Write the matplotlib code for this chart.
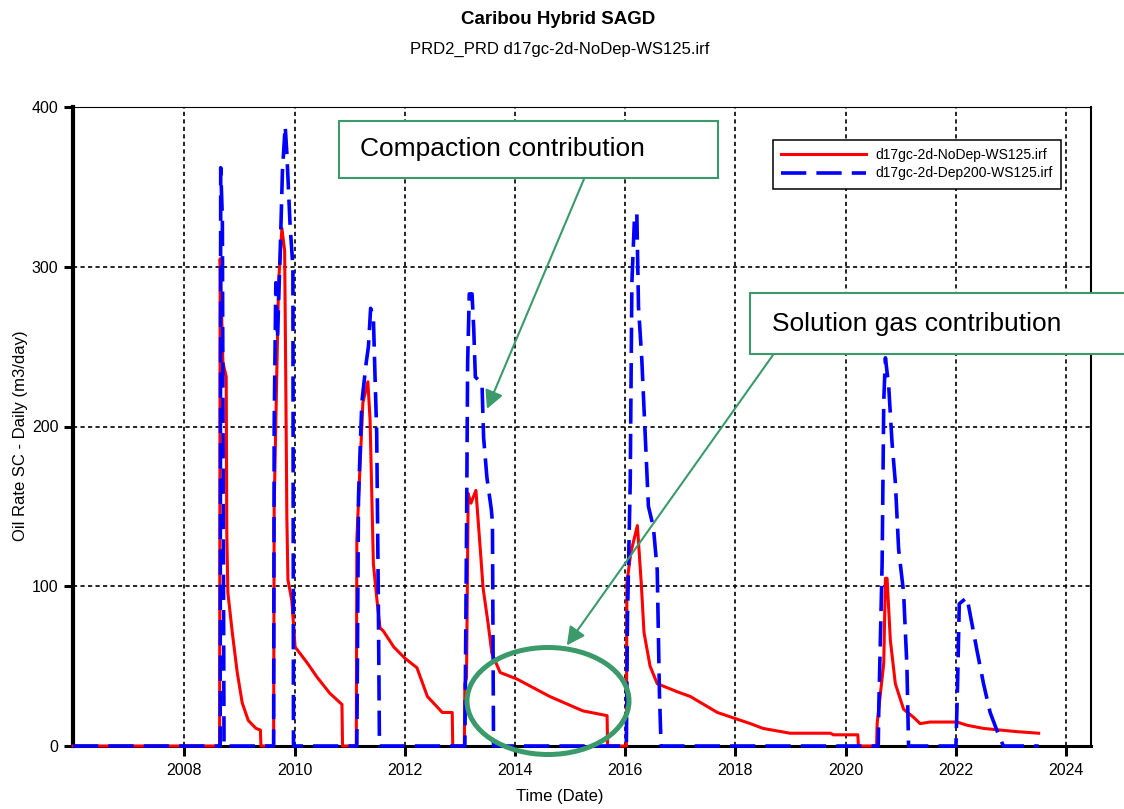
import matplotlib
matplotlib.use("Agg")
import matplotlib.pyplot as plt
from matplotlib.patches import Rectangle, Ellipse

plt.rcParams['font.family'] = ['Liberation Sans', 'DejaVu Sans']

# decimal years and oil rate (m3/day)
red_t = [2005.98, 2008.64, 2008.65, 2008.70, 2008.76, 2008.77, 2008.79, 2008.87, 2008.96, 2009.05, 2009.16, 2009.30, 2009.38, 2009.39,
         2009.62, 2009.63, 2009.67, 2009.71, 2009.77, 2009.82, 2009.84, 2009.86, 2009.88, 2009.95, 2010.01, 2010.23, 2010.41, 2010.64, 2010.86, 2010.87,
         2011.12, 2011.13, 2011.19, 2011.24, 2011.33, 2011.37, 2011.43, 2011.49, 2011.55, 2011.61, 2011.80, 2012.00, 2012.22, 2012.41, 2012.68, 2012.86, 2012.87,
         2013.08, 2013.09, 2013.12, 2013.15, 2013.20, 2013.29, 2013.37, 2013.42, 2013.51, 2013.58, 2013.73, 2014.03, 2014.63, 2015.23, 2015.67, 2015.68,
         2016.02, 2016.03, 2016.10, 2016.22, 2016.29, 2016.34, 2016.45, 2016.58, 2016.94, 2017.18, 2017.67, 2018.27, 2018.50, 2018.99, 2019.72, 2019.78, 2020.22, 2020.23,
         2020.56, 2020.57, 2020.63, 2020.69, 2020.72, 2020.75, 2020.81, 2020.90, 2021.05, 2021.23, 2021.35, 2021.53, 2022.02, 2022.20, 2022.50, 2023.10, 2023.50]
red_v = [0, 0, 305, 240, 231, 134, 96, 71, 46, 27, 16, 11, 10, 0,
         0, 150, 220, 290, 324, 310, 231, 143, 104, 91, 62, 52, 43, 33, 26, 0,
         0, 129, 177, 215, 228, 204, 114, 93, 74, 72, 62, 55, 49, 31, 21, 21, 0,
         0, 39, 43, 158, 152, 160, 123, 99, 77, 58, 46, 42, 31, 22, 19, 0,
         0, 102, 121, 138, 102, 71, 50, 39, 34, 31, 21, 14, 11, 8, 8, 7, 7, 0,
         0, 14, 33, 52, 105, 105, 66, 39, 23, 18, 14, 15, 15, 13, 11, 9, 8]

blue_t = [2005.98, 2008.65, 2008.66, 2008.69, 2008.72,
          2009.62, 2009.63, 2009.66, 2009.69, 2009.74, 2009.78, 2009.83, 2009.86, 2009.92, 2009.97, 2009.98,
          2011.13, 2011.16, 2011.22, 2011.30, 2011.34, 2011.38, 2011.43, 2011.46, 2011.49, 2011.52, 2011.54,
          2013.09, 2013.12, 2013.14, 2013.17, 2013.22, 2013.25, 2013.28, 2013.40, 2013.43, 2013.49, 2013.57, 2013.59, 2013.61,
          2016.02, 2016.04, 2016.09, 2016.12, 2016.17, 2016.21, 2016.24, 2016.30, 2016.36, 2016.42, 2016.51, 2016.58, 2016.62, 2016.65,
          2020.59, 2020.60, 2020.66, 2020.69, 2020.72, 2020.78, 2020.84, 2020.90, 2020.96, 2021.05, 2021.11, 2021.14,
          2022.00, 2022.03, 2022.06, 2022.20, 2022.38, 2022.50, 2022.62, 2022.74, 2022.86, 2023.50]
blue_v = [0, 0, 362, 330, 0,
          0, 200, 290, 255, 310, 360, 388, 371, 325, 300, 0,
          0, 156, 215, 240, 250, 274, 268, 231, 196, 91, 0,
          0, 133, 240, 283, 283, 262, 231, 227, 193, 168, 148, 140, 0,
          0, 80, 165, 290, 333, 333, 275, 242, 196, 150, 137, 110, 33, 0,
          0, 24, 114, 216, 243, 225, 190, 165, 123, 96, 50, 0,
          0, 40, 89, 93, 60, 39, 21, 10, 0, 0]

series_names = ['d17gc-2d-NoDep-WS125.irf', 'd17gc-2d-Dep200-WS125.irf']
year_ticks = [2008, 2010, 2012, 2014, 2016, 2018, 2020, 2022, 2024]
rate_ticks = [0, 100, 200, 300, 400]

W, H = 1124, 809
green = '#3a9a6a'

def fx(x):
    return x / W

def fy(y):
    return 1 - y / H

fig = plt.figure(figsize=(W / 100, H / 100), dpi=100)
ax = fig.add_axes([fx(73), fy(746), fx(1091) - fx(73), fy(107) - fy(746)])

ax.plot(red_t, red_v, color='#ff0000', lw=2.2, label=series_names[0], zorder=3, clip_on=False)
ax.plot(blue_t, blue_v, color='#0000ff', lw=2.6, dashes=(7, 2.8), label=series_names[1], zorder=4, clip_on=False)

ax.set_xlim(2005.98, 2024.45)
ax.set_ylim(0, 400)
ax.set_xticks(year_ticks)
ax.set_yticks(rate_ticks)
ax.grid(True, color='black', linestyle=(0, (2.5, 2)), linewidth=1.2)
ax.tick_params(axis='x', direction='out', length=7.5, width=2.2, labelsize=11.5, pad=5)
ax.tick_params(axis='y', direction='out', length=6.5, width=2.2, labelsize=11.5, pad=4)

ax.spines['left'].set_linewidth(3)
ax.spines['bottom'].set_linewidth(2.2)
ax.spines['top'].set_linewidth(0.8)
ax.spines['right'].set_linewidth(1.5)

ax.set_xlabel('Time (Date)', fontsize=12)
ax.xaxis.set_label_coords(0.478, -0.068)
ax.set_ylabel('Oil Rate SC - Daily (m3/day)', fontsize=12)
ax.yaxis.set_label_coords(-0.044, 0.485)

fig.text(fx(558), fy(19), 'Caribou Hybrid SAGD', ha='center', va='center', fontsize=13.5, weight='bold')
fig.text(fx(560), fy(49), 'PRD2_PRD d17gc-2d-NoDep-WS125.irf', ha='center', va='center', fontsize=12)

leg = ax.legend(loc='upper left', bbox_to_anchor=(fx(773), fy(140)), bbox_transform=fig.transFigure,
                borderaxespad=0, fontsize=10, handlelength=6.1, handletextpad=0.7, borderpad=0.6,
                labelspacing=0.3, fancybox=False, framealpha=1, edgecolor='black')
leg.get_frame().set_linewidth(1.1)
leg.set_zorder(6)

# callout boxes
fig.add_artist(Rectangle((fx(339), fy(178)), fx(718) - fx(339), fy(121) - fy(178), transform=fig.transFigure,
                         facecolor='white', edgecolor=green, lw=1.5, zorder=10))
fig.text(fx(360), fy(149), 'Compaction contribution', fontsize=19, va='center', ha='left', zorder=11)
fig.add_artist(Rectangle((fx(750), fy(354)), fx(1140) - fx(750), fy(293) - fy(354), transform=fig.transFigure,
                         facecolor='white', edgecolor=green, lw=1.5, zorder=10, clip_on=False))
fig.text(fx(772), fy(324), 'Solution gas contribution', fontsize=19, va='center', ha='left', zorder=11)

arrow = dict(arrowstyle='-|>,head_length=0.55,head_width=0.28', color=green, lw=1.5,
             mutation_scale=20, shrinkA=0, shrinkB=0)
ax.annotate('', xy=(2013.49, 211), xycoords='data', xytext=(584, H - 179), textcoords='figure pixels',
            arrowprops=arrow, zorder=9, annotation_clip=False)
ax.annotate('', xy=(2014.94, 63), xycoords='data', xytext=(773, H - 355), textcoords='figure pixels',
            arrowprops=arrow, zorder=9, annotation_clip=False)

fig.add_artist(Ellipse((fx(548), fy(701)), fx(162), 107 / H, transform=fig.transFigure,
                       fill=False, edgecolor=green, lw=3.6, zorder=9))

fig.savefig('out.png', dpi=100)
